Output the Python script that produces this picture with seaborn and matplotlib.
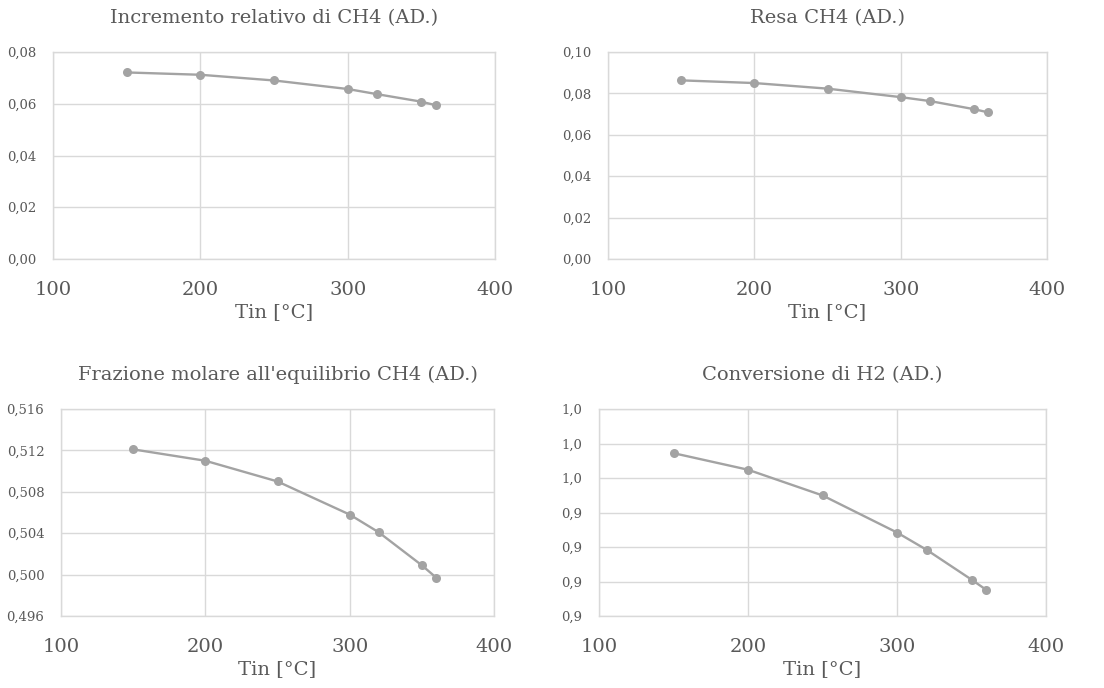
import numpy as np
import pandas as pd
import matplotlib
matplotlib.use("Agg")
import matplotlib.pyplot as plt
from matplotlib.ticker import FuncFormatter, MultipleLocator
import seaborn as sns

sns.set_theme(style="white")
plt.rcParams["font.family"] = ["DejaVu Serif", "DejaVu Sans"]

# Inlet temperature [°C]
t_in = [150, 200, 250, 300, 320, 350, 360]

incremento_ch4 = [0.0721, 0.0712, 0.0690, 0.0657, 0.0637, 0.0608, 0.0594]
resa_ch4 = [0.0863, 0.0850, 0.0823, 0.0782, 0.0763, 0.0724, 0.0708]
frazione_ch4 = [0.5121, 0.5110, 0.5090, 0.5058, 0.5041, 0.5009, 0.4997]
conversione_h2 = [0.9744, 0.9648, 0.9499, 0.9284, 0.9183, 0.9011, 0.8951]

titles = [
    "Incremento relativo di CH4 (AD.)",
    "Resa CH4 (AD.)",
    "Frazione molare all'equilibrio CH4 (AD.)",
    "Conversione di H2 (AD.)",
]
x_label = "Tin [°C]"

TEXT = "#595959"
LINE = "#a3a3a3"
GRID = "#d9d9d9"

W, H = 1104, 688
fig = plt.figure(figsize=(W / 100, H / 100), dpi=100)


def box(l, t, r, b):
    return [l / W, 1 - b / H, (r - l) / W, (b - t) / H]


panels = [
    dict(rect=box(53, 52, 495, 259), y=incremento_ch4, lim=(0.0, 0.08), step=0.02, dec=2),
    dict(rect=box(608, 52, 1047, 259), y=resa_ch4, lim=(0.0, 0.10), step=0.02, dec=2),
    dict(rect=box(61, 409, 494, 616), y=frazione_ch4, lim=(0.496, 0.516), step=0.004, dec=3),
    dict(rect=box(599, 409, 1046, 616), y=conversione_h2, lim=(0.88, 1.00), step=0.02, dec=1),
]

for p, title in zip(panels, titles):
    ax = fig.add_axes(p["rect"])
    df = pd.DataFrame({"t": t_in, "v": p["y"]})
    sns.lineplot(data=df, x="t", y="v", ax=ax, color=LINE, linewidth=1.7,
                 marker="o", markersize=6.5, markeredgewidth=0, markerfacecolor=LINE)
    ax.set_xlim(100, 400)
    ax.set_ylim(*p["lim"])
    ax.xaxis.set_major_locator(MultipleLocator(100))
    ax.yaxis.set_major_locator(MultipleLocator(p["step"]))
    dec = p["dec"]
    ax.yaxis.set_major_formatter(FuncFormatter(
        lambda v, pos, d=dec: f"{v:.{d}f}".replace(".", ",")))
    ax.grid(True, color=GRID, linewidth=1.0)
    ax.set_axisbelow(True)
    for s in ax.spines.values():
        s.set_color(GRID)
        s.set_linewidth(1.0)
    ax.tick_params(axis="y", labelsize=9.5, colors=TEXT, length=0, pad=12)
    ax.tick_params(axis="x", labelsize=14, colors=TEXT, length=0, pad=16)
    ax.set_xlabel(x_label, fontsize=14, color=TEXT, labelpad=3)
    ax.set_ylabel("")
    ax.set_title(title, fontsize=14, color=TEXT, pad=21)

fig.savefig("out.png", dpi=100, facecolor="white")
